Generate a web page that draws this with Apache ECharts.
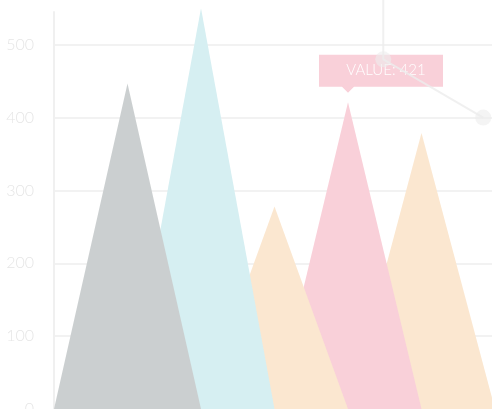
<!DOCTYPE html>
<html>
<head>
<meta charset="utf-8">
<script src="https://cdn.jsdelivr.net/npm/echarts@6/dist/echarts.min.js"></script>
<style>
  html, body { margin: 0; padding: 0; background: #fff; }
  #main { width: 492px; height: 409px; }
</style>
</head>
<body>
<div id="main"></div>
<script>
// categories (first and last slot are empty, the chart is cut on the right)
let categories = ["", "A", "B", "C", "D", "E", ""];
let values = ["-", 447, 550, 278, 421, 379, "-"];
let yTicks = [0, 100, 200, 300, 400, 500];
// grey line crossing the top right corner (x in category units)
let lineX = [4.48, 4.48, 5.84];
let lineY = [620, 480, 400];
let labelIndex = 4;

let colors = ["#cbcfd0", "#cbcfd0", "#d6eff2", "#fbe7d0", "#f9d0d9", "#fbe7d0", "#fbe7d0"];

let chart = echarts.init(document.getElementById("main"));

let option = {
  animation: false,
  grid: {
    left: 54,
    right: -3,
    top: 12,
    bottom: 0,
    outerBoundsMode: "none",
    containLabel: false
  },
  xAxis: [{
    type: "category",
    data: categories,
    boundaryGap: false,
    axisLine: { show: false },
    axisTick: { show: false },
    axisLabel: { show: false },
    splitLine: { show: false }
  }, {
    type: "value",
    min: 0,
    max: categories.length - 1,
    show: false
  }],
  yAxis: {
    type: "value",
    min: yTicks[0],
    max: 545,
    interval: yTicks[1] - yTicks[0],
    axisLine: {
      show: true,
      lineStyle: { color: "#f0f0f0", width: 2 }
    },
    axisTick: { show: false },
    axisLabel: {
      showMaxLabel: false,
      color: "#e6e6e6",
      fontFamily: "Lato",
      fontWeight: 300,
      fontSize: 16,
      margin: 20
    },
    splitLine: {
      showMaxLine: false,
      lineStyle: { color: "#f2f2f2", width: 2 }
    }
  },
  series: [{
    type: "pictorialBar",
    symbol: "triangle",
    symbolSize: [147, "100%"],
    clip: false,
    z: 2,
    data: values.map(function (v, i) {
      return {
        value: v,
        z: values.length - i,
        itemStyle: { color: colors[i] }
      };
    }),
    markPoint: {
      symbol: "path://M0,0 L124,0 L124,32 L35,32 L29,38 L23,32 L0,32 Z",
      symbolSize: [124, 38],
      symbolOffset: [33, -28.5],
      itemStyle: { color: "#f9d0d9" },
      label: {
        show: true,
        position: "inside",
        offset: [5, -3.5],
        color: "#fff",
        fontFamily: "Lato",
        fontWeight: 300,
        fontSize: 15,
        formatter: "VALUE: {c}"
      },
      data: [{
        coord: [labelIndex, values[labelIndex]],
        value: values[labelIndex]
      }]
    }
  }, {
    type: "line",
    xAxisIndex: 1,
    z: 10,
    clip: false,
    symbol: "circle",
    symbolSize: 16,
    lineStyle: { color: "rgba(236,236,236,0.8)", width: 2 },
    itemStyle: { color: "rgba(236,236,236,0.6)" },
    data: lineX.map(function (x, i) {
      return [x, lineY[i]];
    })
  }]
};

chart.setOption(option);
</script>
</body>
</html>
